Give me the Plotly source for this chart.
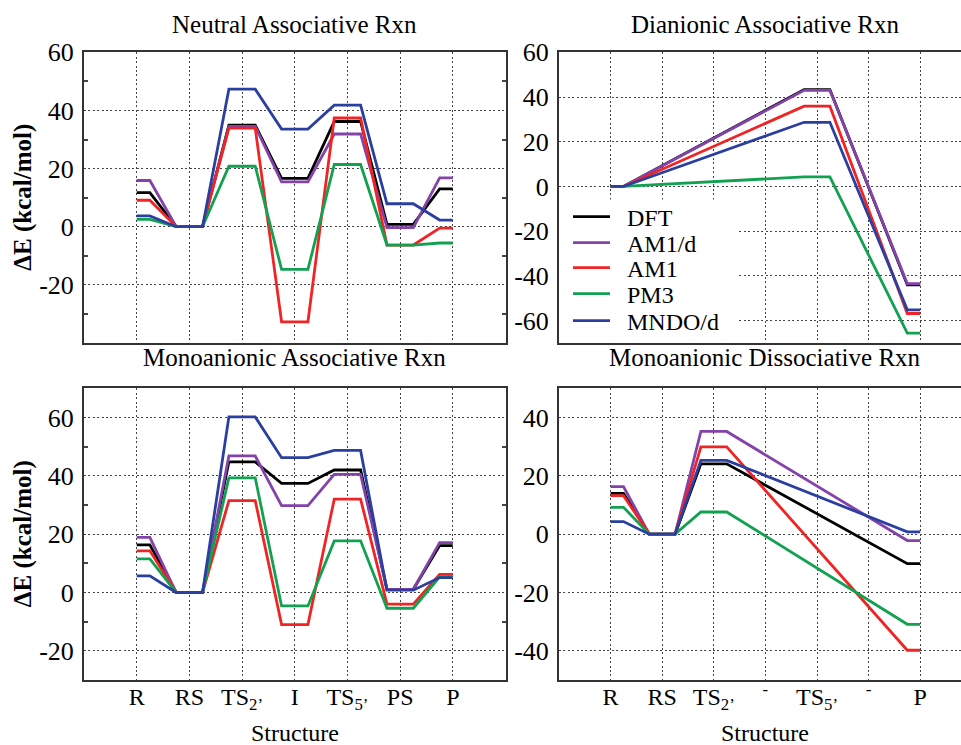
import plotly.graph_objects as go

# ---------------- data ----------------
methods = ["DFT", "AM1/d", "AM1", "PM3", "MNDO/d"]
colors = ["#000000", "#8443A8", "#F02424", "#12A150", "#2A3FA0"]

labels_assoc = ["R", "RS", "TS<sub>2’</sub>", "I", "TS<sub>5’</sub>", "PS", "P"]
labels_dissoc = ["R", "RS", "TS<sub>2’</sub>", "<sup>-</sup>", "TS<sub>5’</sub>", "<sup>-</sup>", "P"]
positions = [1, 2, 3, 4, 5, 6, 7]

# Neutral Associative Rxn
neutral_dft = [11.7, 0, 34.9, 16.6, 36.2, 0.8, 13.0]
neutral_am1d = [15.9, 0, 34.5, 15.4, 31.9, -0.3, 16.8]
neutral_am1 = [9.1, 0, 33.9, -32.7, 37.4, -6.3, -0.5]
neutral_pm3 = [2.5, 0, 20.8, -14.7, 21.4, -6.3, -5.6]
neutral_mndod = [3.7, 0, 47.3, 33.6, 41.8, 7.9, 2.3]

# Dianionic Associative Rxn
dian_dft = [0, None, None, None, 43.3, None, -44.0]
dian_am1d = [0, None, None, None, 43.0, None, -43.5]
dian_am1 = [0, None, None, None, 35.9, None, -56.8]
dian_pm3 = [0, None, None, None, 4.3, None, -65.6]
dian_mndod = [0, None, None, None, 28.7, None, -55.2]

# Monoanionic Associative Rxn
mono_assoc_dft = [16.3, 0, 44.8, 37.4, 42.0, 1.1, 16.1]
mono_assoc_am1d = [18.9, 0, 46.8, 29.8, 40.5, 1.1, 17.1]
mono_assoc_am1 = [14.3, 0, 31.5, -11.0, 32.0, -4.0, 6.2]
mono_assoc_pm3 = [11.5, 0, 39.3, -4.6, 17.7, -5.4, 5.4]
mono_assoc_mndod = [5.7, 0, 60.2, 46.2, 48.7, 0.8, 5.1]

# Monoanionic Dissociative Rxn
mono_dis_dft = [14.0, 0, 24.1, None, None, None, -10.1]
mono_dis_am1d = [16.3, 0, 35.2, None, None, None, -2.2]
mono_dis_am1 = [13.2, 0, 29.9, None, None, None, -39.8]
mono_dis_pm3 = [9.2, 0, 7.6, None, None, None, -30.9]
mono_dis_mndod = [4.3, 0, 25.3, None, None, None, 0.8]

ytick_tl = [-20, 0, 20, 40, 60]
ytick_tr = [-60, -40, -20, 0, 20, 40, 60]
ytick_bl = [-20, 0, 20, 40, 60]
ytick_br = [-40, -20, 0, 20, 40]

panels = [
    dict(title="Neutral Associative Rxn", series=[neutral_dft, neutral_am1d, neutral_am1, neutral_pm3, neutral_mndod],
         yr=[-40, 60], yt=ytick_tl, minor=[-30, -10, 10, 30, 50], labels=None),
    dict(title="Dianionic Associative Rxn", series=[dian_dft, dian_am1d, dian_am1, dian_pm3, dian_mndod],
         yr=[-70, 60], yt=ytick_tr, minor=None, labels=None),
    dict(title="Monoanionic Associative Rxn", series=[mono_assoc_dft, mono_assoc_am1d, mono_assoc_am1, mono_assoc_pm3, mono_assoc_mndod],
         yr=[-30, 70], yt=ytick_bl, minor=[-10, 10, 30, 50], labels=labels_assoc),
    dict(title="Monoanionic Dissociative Rxn", series=[mono_dis_dft, mono_dis_am1d, mono_dis_am1, mono_dis_pm3, mono_dis_mndod],
         yr=[-50, 50], yt=ytick_br, minor=None, labels=labels_dissoc),
]

HALF = 0.25  # half width of each level bar (x units)


def level_path(values):
    xs, ys = [], []
    n = len(values)
    for i, v in enumerate(values):
        if v is None:
            continue
        p = positions[i]
        xs += [p if i == 0 else p - HALF, p if i == n - 1 else p + HALF]
        ys += [v, v]
    return xs, ys


# ---------------- layout geometry (pixels -> paper) ----------------
W, H = 961, 745
xdom = [[84 / W, 505.5 / W], [559 / W, 1.0], [84 / W, 505.5 / W], [559 / W, 1.0]]
ydom = [[1 - 343 / H, 1 - 52.3 / H], [1 - 343 / H, 1 - 52.3 / H],
        [1 - 680 / H, 1 - 388.3 / H], [1 - 680 / H, 1 - 388.3 / H]]
xmax_right = (961 - 559) / 51.6

FONT = "Liberation Serif, Times New Roman, Times, serif"
fig = go.Figure()

for k, pnl in enumerate(panels):
    ax = "" if k == 0 else str(k + 1)
    for m, vals in enumerate(pnl["series"]):
        xs, ys = level_path(vals)
        fig.add_trace(go.Scatter(
            x=xs, y=ys, mode="lines", name="\u00a0\u00a0" + methods[m],
            line=dict(color=colors[m], width=2.8),
            xaxis="x" + ax, yaxis="y" + ax,
            showlegend=(k == 0),
            legend="legend" if m == 0 else f"legend{m + 1}",
        ))

    right = k in (1, 3)
    xa = dict(
        domain=xdom[k], anchor="y" + ax,
        range=[0, xmax_right] if right else [0, 8],
        tickmode="array", tickvals=positions,
        showticklabels=pnl["labels"] is not None,
        ticks="", showgrid=True, gridcolor="#444", gridwidth=1.4, griddash="2px,2.4px",
        showline=True, linecolor="#333", linewidth=2, mirror=True,
        zeroline=False, tickfont=dict(family=FONT, size=24, color="black"),
        ticklabelstandoff=-6, automargin=False,
    )
    if pnl["labels"]:
        xa["ticktext"] = pnl["labels"]
    ya = dict(
        domain=ydom[k], anchor="x" + ax, range=pnl["yr"],
        tickmode="array", tickvals=pnl["yt"], ticktext=[str(v) for v in pnl["yt"]],
        ticks="", showgrid=True, gridcolor="#444", gridwidth=1.4, griddash="2px,2.4px",
        showline=True, linecolor="#333", linewidth=2,
        mirror=False if right else "ticks",
        zeroline=False, tickfont=dict(family=FONT, size=26, color="black"),
        ticklabelstandoff=3, automargin=False,
    )
    if pnl["minor"]:
        ya["minor"] = dict(tickmode="array", tickvals=pnl["minor"], ticks="inside", ticklen=4,
                           tickcolor="#444", tickwidth=1.5, showgrid=False)
    fig.layout["xaxis" + ax] = xa
    fig.layout["yaxis" + ax] = ya

    # subplot title
    fig.add_annotation(text=pnl["title"], xref="x" + ax, x=4, yref="paper",
                       y=1 - (25 if k < 2 else 357) / H, yanchor="middle", showarrow=False,
                       font=dict(family=FONT, size=25, color="black"))

# axis titles
for k in (2, 3):
    ax = str(k + 1)
    fig.add_annotation(text="Structure", xref="x" + ax, x=4, yref="paper", y=1 - 733 / H,
                       yanchor="middle", showarrow=False, font=dict(family=FONT, size=24, color="black"))
for k in (0, 2):
    fig.add_annotation(text="<b>ΔE (kcal/mol)</b>", xref="paper", x=23 / W, yref="paper",
                       y=(ydom[k][0] + ydom[k][1]) / 2, textangle=-90, showarrow=False,
                       xanchor="center", yanchor="middle",
                       font=dict(family=FONT, size=25, color="black"))

# white background behind legend (hides grid, not traces)
fig.add_shape(type="rect", xref="x2", yref="y2", x0=0, x1=(737 - 559) / 51.6, y0=-70, y1=-5.8,
              fillcolor="white", line=dict(width=0), layer="between")

# one legend per entry so the row spacing matches
legend_rows = [217, 243, 268, 294, 321]
for m in range(5):
    key = "legend" if m == 0 else f"legend{m + 1}"
    fig.layout[key] = dict(
        x=568 / W, y=1 - legend_rows[m] / H, xanchor="left", yanchor="middle",
        bgcolor="rgba(0,0,0,0)", borderwidth=0,
        font=dict(family=FONT, size=24, color="black"), itemwidth=37,
    )

fig.update_layout(
    width=W, height=H, margin=dict(l=0, r=0, t=0, b=0, pad=0, autoexpand=False),
    paper_bgcolor="white", plot_bgcolor="white",
    font=dict(family=FONT, size=24, color="black"),
)

fig.write_html("out.html")
